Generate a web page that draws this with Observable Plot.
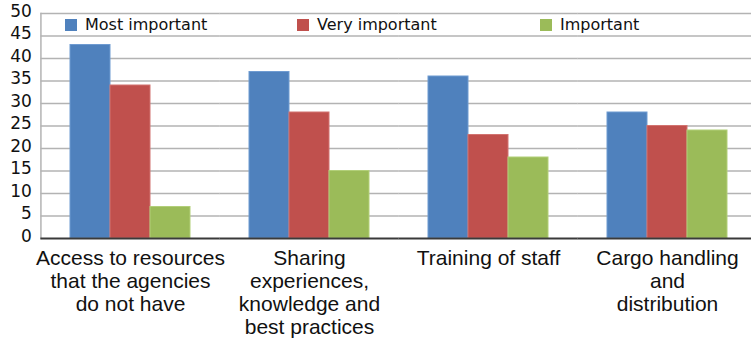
<!DOCTYPE html>
<html>
<head>
<meta charset="utf-8">
<script src="https://cdn.jsdelivr.net/npm/d3@7"></script>
<script src="https://cdn.jsdelivr.net/npm/@observablehq/plot@0.6"></script>
<style>
  html, body { margin: 0; padding: 0; background: #fff; }
  #chart { position: relative; width: 751px; height: 348px; }
  #legend { position: absolute; top: 0; left: 0; width: 751px; height: 40px;
            font-family: "DejaVu Sans", sans-serif; font-size: 16px; color: #111; }
  #legend .item { position: absolute; top: 15px; display: flex; align-items: center; }
  #legend .sw { width: 12px; height: 12px; margin-right: 8px; }
</style>
</head>
<body>
<div id="chart"></div>
<script>
// Categories (line breaks as set in the axis labels)
const categories = [
  "Access to resources\nthat the agencies\ndo not have",
  "Sharing\nexperiences,\nknowledge and\nbest practices",
  "Training of staff",
  "Cargo handling\nand\ndistribution"
];
const series = ["Most important", "Very important", "Important"];
const mostImportant = [43, 37, 36, 28];
const veryImportant = [34, 28, 23, 25];
const important = [7, 15, 18, 24];
const yTicks = [0, 5, 10, 15, 20, 25, 30, 35, 40, 45, 50];
const colors = ["#4F81BD", "#C0504D", "#9BBB59"];
const strokes = ["#6f9bd1", "#d27370", "#b2cf79"];

const valuesBySeries = [mostImportant, veryImportant, important];
const data = [];
categories.forEach((c, i) => {
  series.forEach((s, j) => data.push({category: c, series: s, value: valuesBySeries[j][i]}));
});

// Layout of the category bands
const width = 751, marginLeft = 40, marginRight = -6;
const paddingInner = 0.33, paddingOuter = 0.165;
const step = (width - marginLeft - marginRight) / (categories.length - paddingInner + 2 * paddingOuter);
const outer = step * paddingOuter;          // space between frame edge and first group
const halfGap = step * paddingInner / 2;    // half the space between groups

const chart = Plot.plot({
  width,
  height: 348,
  marginLeft,
  marginRight,
  marginTop: 13,
  marginBottom: 110,
  style: {background: "transparent"},
  fx: {domain: categories, paddingInner, paddingOuter, label: null},
  x: {domain: series, padding: 0, axis: null},
  y: {domain: [0, 50], ticks: yTicks, label: null},
  color: {domain: series, range: colors},
  marks: [
    // horizontal grid, bridged across the gaps between groups
    Plot.ruleY(yTicks.filter(d => d > 0), {stroke: "#b3b3b3", strokeWidth: 1.5,
      insetLeft: -halfGap, insetRight: -halfGap}),
    Plot.frame({anchor: "left", facetAnchor: "left", dx: -outer, stroke: "#b3b3b3", strokeWidth: 1.5}),
    Plot.barY(data, {fx: "category", x: "series", y: "value", fill: "series",
      stroke: d => strokes[series.indexOf(d.series)], strokeWidth: 1}),
    Plot.ruleY([0], {stroke: "#3a3a3a", strokeWidth: 2, insetLeft: -halfGap, insetRight: -halfGap}),
    Plot.axisY({ticks: yTicks, tickSize: 0, tickPadding: 9, dx: -outer, dy: -2,
      fontSize: 17, fontFamily: "DejaVu Sans, sans-serif", fill: "#111", label: null}),
    Plot.axisFx({anchor: "bottom", tickSize: 0, tickPadding: 10, fontSize: 21, lineHeight: 1.1,
      fontFamily: "Liberation Sans, Arial, sans-serif", fill: "#111", label: null})
  ]
});

const root = document.getElementById("chart");
root.appendChild(chart);

// Legend across the top of the plot area
const legend = document.createElement("div");
legend.id = "legend";
const legendLeft = [65, 297, 540];
series.forEach((s, i) => {
  const item = document.createElement("div");
  item.className = "item";
  item.style.left = legendLeft[i] + "px";
  const sw = document.createElement("span");
  sw.className = "sw";
  sw.style.background = colors[i];
  const label = document.createElement("span");
  label.textContent = s;
  item.appendChild(sw);
  item.appendChild(label);
  legend.appendChild(item);
});
root.appendChild(legend);
</script>
</body>
</html>
